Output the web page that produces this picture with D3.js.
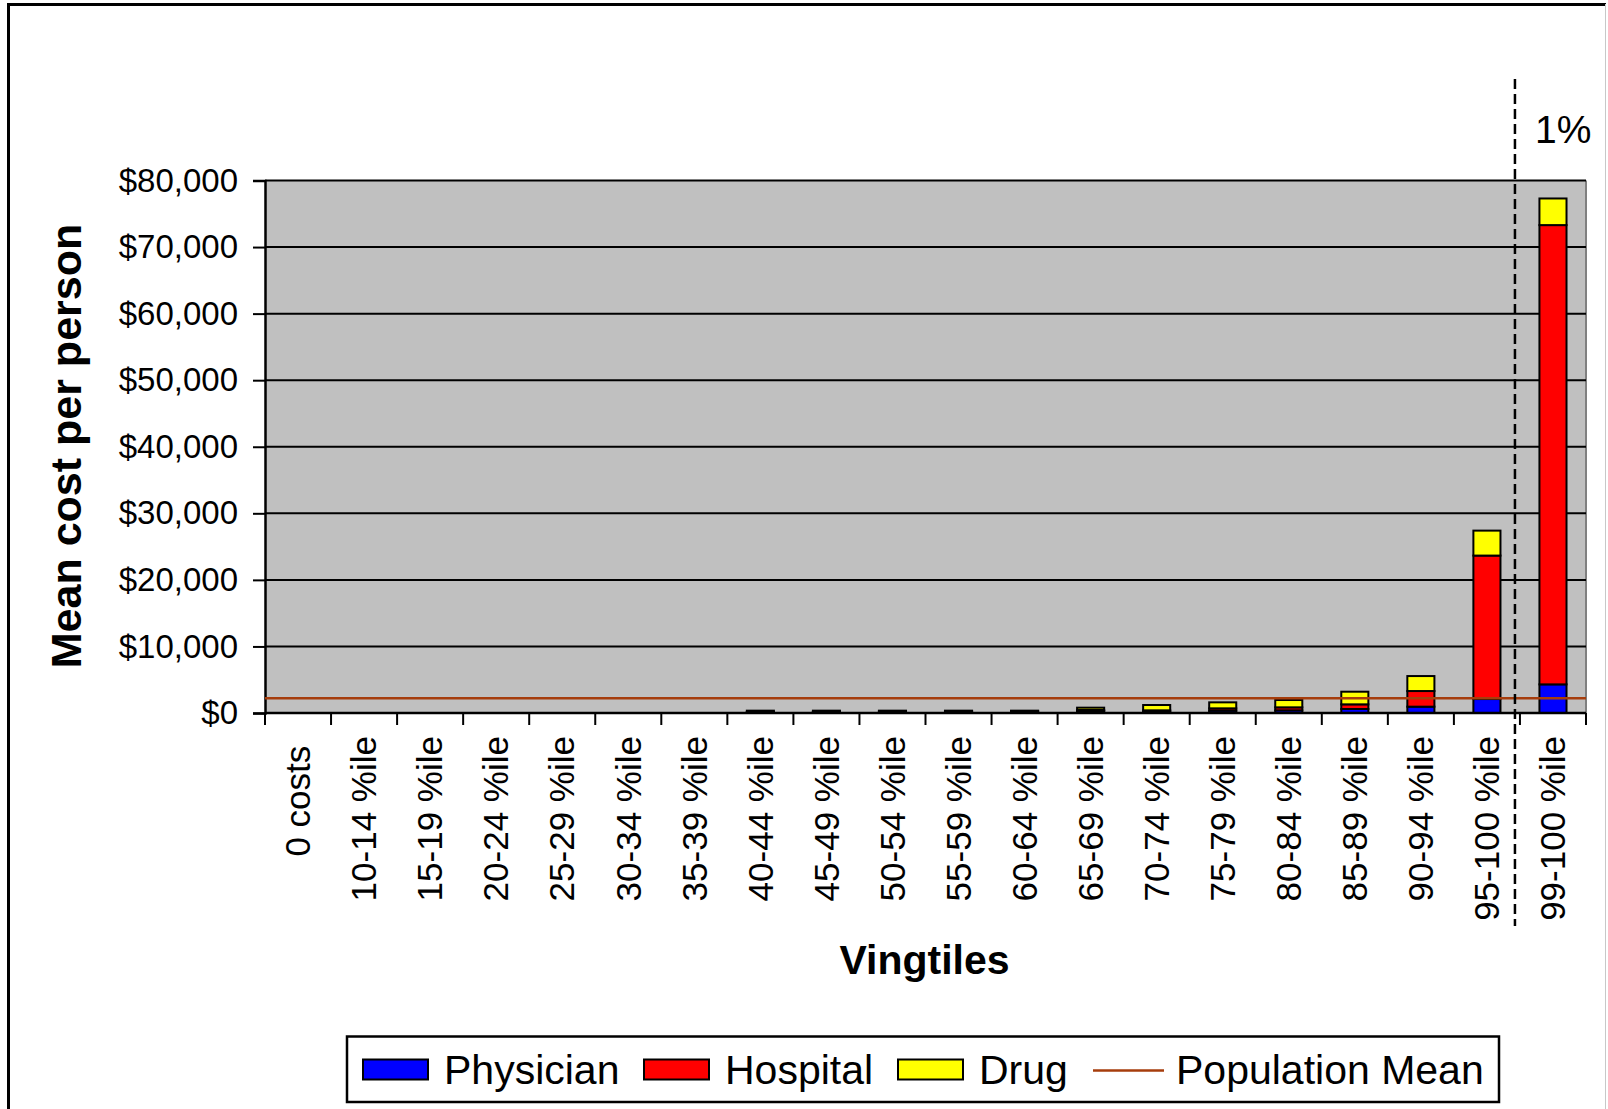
<!DOCTYPE html>
<html>
<head>
<meta charset="utf-8">
<script src="https://cdn.jsdelivr.net/npm/d3@7"></script>
<style>
  html, body { margin: 0; padding: 0; background: #fff; }
  svg { display: block; font-family: "Liberation Sans", Arial, sans-serif; }
</style>
</head>
<body>
<svg id="chart" width="1608" height="1109"></svg>
<script>
// Vingtile groups (the trailing space on "0 costs " is intentional)
const categories = ["0 costs ", "10-14 %ile", "15-19 %ile", "20-24 %ile", "25-29 %ile",
  "30-34 %ile", "35-39 %ile", "40-44 %ile", "45-49 %ile", "50-54 %ile", "55-59 %ile",
  "60-64 %ile", "65-69 %ile", "70-74 %ile", "75-79 %ile", "80-84 %ile", "85-89 %ile",
  "90-94 %ile", "95-100 %ile", "99-100 %ile"];

// Mean cost per person by component ($)
const physician = [0, 0, 0, 0, 0, 0, 0, 100, 100, 200, 200, 200, 300, 200, 350, 400, 600, 950, 2100, 4300];
const hospital  = [0, 0, 0, 0, 0, 0, 0, 50, 50, 50, 50, 50, 150, 200, 350, 450, 700, 2350, 21550, 69000];
const drug      = [0, 0, 0, 0, 0, 0, 0, 200, 200, 100, 100, 100, 350, 800, 900, 1100, 1900, 2250, 3750, 4000];

const populationMean = 2200;
const yTicks = [0, 10000, 20000, 30000, 40000, 50000, 60000, 70000, 80000];
const seriesNames = ["Physician", "Hospital", "Drug"];
const seriesColors = { Physician: "#0000ff", Hospital: "#ff0000", Drug: "#ffff00" };
const meanColor = "#a63d0c";

const svg = d3.select("#chart");

const plot = { left: 265, right: 1586, top: 180.5, bottom: 713 };

const x = d3.scaleBand().domain(categories).range([plot.left, plot.right]).padding(0);
const y = d3.scaleLinear().domain([0, 80000]).range([plot.bottom, plot.top]);
const barW = x.step() * 0.41;

// Outer frame
svg.append("line").attr("x1", 8.5).attr("x2", 8.5).attr("y1", 3).attr("y2", 1109)
  .attr("stroke", "#000").attr("stroke-width", 3);
svg.append("line").attr("x1", 7).attr("x2", 1606).attr("y1", 4.5).attr("y2", 4.5)
  .attr("stroke", "#000").attr("stroke-width", 3);
svg.append("line").attr("x1", 1605.5).attr("x2", 1605.5).attr("y1", 4).attr("y2", 1109)
  .attr("stroke", "#c8c8c8").attr("stroke-width", 1);

// Plot background
svg.append("rect")
  .attr("x", plot.left).attr("y", plot.top)
  .attr("width", plot.right - plot.left).attr("height", plot.bottom - plot.top)
  .attr("fill", "#c0c0c0");
svg.append("line").attr("x1", plot.right).attr("x2", plot.right)
  .attr("y1", plot.top).attr("y2", plot.bottom)
  .attr("stroke", "#808080").attr("stroke-width", 2);

// Gridlines
svg.append("g").selectAll("line").data(yTicks.filter(d => d > 0)).join("line")
  .attr("x1", plot.left).attr("x2", plot.right)
  .attr("y1", d => y(d)).attr("y2", d => y(d))
  .attr("stroke", "#000").attr("stroke-width", 2);

// Y axis
const yAxis = svg.append("g")
  .attr("transform", `translate(${plot.left},0)`)
  .call(d3.axisLeft(y).tickValues(yTicks).tickSize(12).tickPadding(15)
    .tickFormat(d => "$" + d3.format(",")(d)));
yAxis.select(".domain").attr("stroke", "#000").attr("stroke-width", 2.5);
yAxis.selectAll(".tick line").attr("stroke", "#000").attr("stroke-width", 2);
yAxis.selectAll(".tick text").attr("font-size", 33).attr("fill", "#000")
  .attr("font-family", "'Liberation Sans', Arial, sans-serif");

// Stacked bars
const rows = categories.map((c, i) => ({ cat: c, Physician: physician[i], Hospital: hospital[i], Drug: drug[i] }));
const stacked = d3.stack().keys(seriesNames)(rows);
svg.append("g").selectAll("g").data(stacked).join("g")
  .attr("fill", s => seriesColors[s.key])
  .selectAll("rect").data(s => s.filter(d => d[1] > d[0])).join("rect")
  .attr("x", d => x(d.data.cat) + (x.step() - barW) / 2)
  .attr("width", barW)
  .attr("y", d => y(d[1]))
  .attr("height", d => y(d[0]) - y(d[1]))
  .attr("stroke", "#000").attr("stroke-width", 2);

// Population mean line
svg.append("line")
  .attr("x1", plot.left).attr("x2", plot.right)
  .attr("y1", y(populationMean)).attr("y2", y(populationMean))
  .attr("stroke", meanColor).attr("stroke-width", 2.5);

// X axis line and boundary ticks
svg.append("line").attr("x1", plot.left).attr("x2", plot.right)
  .attr("y1", plot.bottom).attr("y2", plot.bottom)
  .attr("stroke", "#000").attr("stroke-width", 2.5);
const boundaries = d3.range(categories.length + 1).map(i => plot.left + i * x.step());
svg.append("g").selectAll("line").data(boundaries).join("line")
  .attr("x1", d => d).attr("x2", d => d)
  .attr("y1", plot.bottom).attr("y2", plot.bottom + 12)
  .attr("stroke", "#000").attr("stroke-width", 2);

// Category labels, rotated
svg.append("g").selectAll("text").data(categories).join("text")
  .attr("transform", d => `translate(${x(d) + x.step() / 2},736) rotate(-90)`)
  .attr("text-anchor", "end")
  .attr("dy", "0.35em")
  .attr("font-size", 35)
  .style("white-space", "pre")
  .text(d => d);

// Dashed divider marking the top 1%
const divX = plot.left + (categories.length - 1) * x.step() - 5;
svg.append("line")
  .attr("x1", divX).attr("x2", divX).attr("y1", 79).attr("y2", 926)
  .attr("stroke", "#000").attr("stroke-width", 2.5).attr("stroke-dasharray", "10,5");
svg.append("text").attr("x", 1535).attr("y", 143).attr("font-size", 39).text("1%");

// Axis titles
svg.append("text")
  .attr("transform", "translate(81,446) rotate(-90)")
  .attr("text-anchor", "middle").attr("font-size", 43).attr("font-weight", "bold")
  .text("Mean cost per person");
svg.append("text")
  .attr("x", 924.5).attr("y", 974)
  .attr("text-anchor", "middle").attr("font-size", 41).attr("font-weight", "bold")
  .text("Vingtiles");

// Legend
const legend = svg.append("g");
legend.append("rect").attr("x", 347).attr("y", 1036.5).attr("width", 1152).attr("height", 65.5)
  .attr("fill", "#fff").attr("stroke", "#000").attr("stroke-width", 2.5);
const legendItems = [
  { name: "Physician", type: "rect", sx: 363, tx: 444 },
  { name: "Hospital", type: "rect", sx: 644, tx: 725 },
  { name: "Drug", type: "rect", sx: 898, tx: 979 },
  { name: "Population Mean", type: "line", sx: 1093, tx: 1176 }
];
legendItems.forEach(it => {
  if (it.type === "rect") {
    legend.append("rect").attr("x", it.sx).attr("y", 1059.5).attr("width", 65).attr("height", 20)
      .attr("fill", seriesColors[it.name]).attr("stroke", "#000").attr("stroke-width", 2);
  } else {
    legend.append("line").attr("x1", it.sx).attr("x2", it.sx + 71)
      .attr("y1", 1070.5).attr("y2", 1070.5)
      .attr("stroke", meanColor).attr("stroke-width", 2.5);
  }
  legend.append("text").attr("x", it.tx).attr("y", 1084).attr("font-size", 41).text(it.name);
});
</script>
</body>
</html>
